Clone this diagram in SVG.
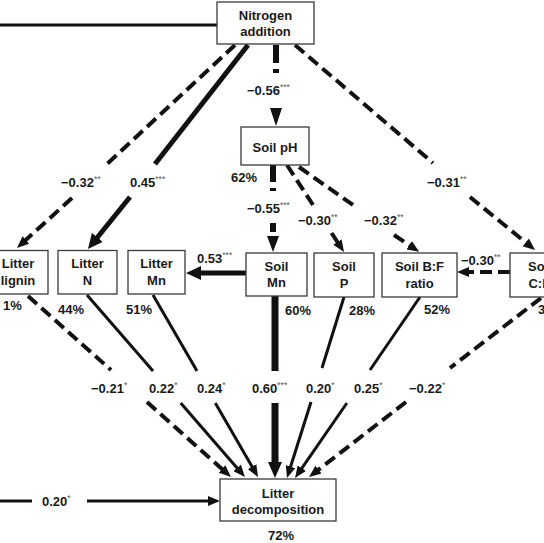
<svg xmlns="http://www.w3.org/2000/svg" width="544" height="543" viewBox="0 0 544 543">
<defs>
<style>
.box{fill:#fff;stroke:#3a3a3a;stroke-width:1.3}
.t{font-family:"Liberation Sans",Arial,sans-serif;font-weight:bold;font-size:13px;fill:#1a1a1a}
.c{text-anchor:middle}
.sup{font-size:8.5px;font-weight:normal;fill:#555}
.ln{fill:none;stroke:#111;stroke-width:3}
.ds{stroke-dasharray:12 6;stroke-width:4}
.th{stroke-width:5}
.hv{stroke-width:6}
.xh{stroke-width:7}
.hd{fill:#111}
</style>
<marker id="ah" markerUnits="userSpaceOnUse" markerWidth="12" markerHeight="10" refX="2" refY="5" orient="auto"><path d="M0,0 L12,5 L0,10 z" fill="#111"/></marker>
<marker id="ahL" markerUnits="userSpaceOnUse" markerWidth="15" markerHeight="14" refX="3" refY="7" orient="auto"><path d="M0,0 L15,7 L0,14 z" fill="#111"/></marker>
<marker id="ahXL" markerUnits="userSpaceOnUse" markerWidth="16" markerHeight="14" refX="2" refY="7" orient="auto"><path d="M0,0 L16,7 L0,14 z" fill="#111"/></marker>
</defs>
<rect width="544" height="543" fill="#fff"/>

<g id="connectors">
<line class="ln" x1="0" y1="25" x2="217" y2="25" stroke-width="4"/>
<!-- N -> pH -->
<line class="ln hv" x1="276" y1="45" x2="276" y2="63"/>
<line class="ln hv" x1="276" y1="69" x2="276" y2="73"/>
<polygon class="hd" points="270,108 282,108 276,126"/>
<text class="t" x="247" y="94.5">−0.56<tspan class="sup" dy="-5">***</tspan></text>
<!-- N -> Litter lignin -->
<line class="ln ds" x1="235" y1="45" x2="106" y2="165"/>
<line class="ln ds" x1="72" y1="198" x2="24.4" y2="241.3" marker-end="url(#ah)"/>
<text class="t" x="61" y="186.5">−0.32<tspan class="sup" dy="-5">**</tspan></text>
<!-- N -> Litter N -->
<line class="ln th" x1="248" y1="45" x2="155" y2="164"/>
<line class="ln th" x1="130" y1="197" x2="95.5" y2="239.7" marker-end="url(#ahL)"/>
<text class="t" x="130" y="186.5">0.45<tspan class="sup" dy="-5">***</tspan></text>
<!-- N -> Soil C:N -->
<line class="ln ds" x1="295" y1="45" x2="433" y2="163"/>
<line class="ln ds" x1="470" y1="197" x2="527.3" y2="243.7" marker-end="url(#ah)"/>
<text class="t" x="427" y="186.5">−0.31<tspan class="sup" dy="-5">**</tspan></text>
<!-- pH -> Soil Mn -->
<line class="ln hv" x1="273" y1="165" x2="273" y2="182"/>
<line class="ln hv" x1="273" y1="188" x2="273" y2="191"/>
<line class="ln hv" x1="273" y1="223" x2="273" y2="232"/>
<polygon class="hd" points="267,236 279,236 273,252"/>
<text class="t" x="247" y="212.5">−0.55<tspan class="sup" dy="-5">***</tspan></text>
<!-- pH -> Soil P -->
<line class="ln ds" x1="287" y1="165" x2="313" y2="205"/>
<line class="ln ds" x1="331.5" y1="233" x2="338.5" y2="243.6" marker-end="url(#ah)"/>
<text class="t" x="298" y="224.5">−0.30<tspan class="sup" dy="-5">**</tspan></text>
<!-- pH -> Soil B:F -->
<line class="ln ds" x1="299" y1="167" x2="353" y2="205"/>
<line class="ln ds" x1="394" y1="235" x2="410.8" y2="246.2" marker-end="url(#ah)"/>
<text class="t" x="364" y="224.5">−0.32<tspan class="sup" dy="-5">**</tspan></text>
<!-- Soil C:N -> Soil B:F -->
<line class="ln ds" x1="510" y1="272" x2="467" y2="272" marker-end="url(#ah)"/>
<text class="t" x="461" y="264.5">−0.30<tspan class="sup" dy="-5">**</tspan></text>
<!-- Soil Mn -> Litter Mn -->
<line class="ln th" x1="246" y1="273" x2="198" y2="273" marker-end="url(#ahL)"/>
<text class="t" x="197" y="262.5">0.53<tspan class="sup" dy="-5">***</tspan></text>
<!-- lignin -> decomposition -->
<line class="ln ds" x1="28" y1="296" x2="111" y2="370"/>
<line class="ln ds" x1="147" y1="402" x2="223.5" y2="470.3" marker-end="url(#ah)"/>
<text class="t" x="91" y="392.5">−0.21<tspan class="sup" dy="-5">*</tspan></text>
<!-- Litter N -> decomposition -->
<line class="ln" x1="87" y1="295" x2="153" y2="371"/>
<line class="ln" x1="180.7" y1="403" x2="238.4" y2="469.4" marker-end="url(#ah)"/>
<text class="t" x="149" y="392.5">0.22<tspan class="sup" dy="-5">*</tspan></text>
<!-- Litter Mn -> decomposition -->
<line class="ln" x1="153" y1="295" x2="197" y2="371"/>
<line class="ln" x1="215.3" y1="403" x2="253" y2="468.3" marker-end="url(#ah)"/>
<text class="t" x="197" y="392.5">0.24<tspan class="sup" dy="-5">*</tspan></text>
<!-- Soil Mn -> decomposition -->
<line class="ln xh" x1="275" y1="296" x2="275" y2="371"/>
<line class="ln xh" x1="275" y1="403" x2="275" y2="464" marker-end="url(#ahXL)"/>
<text class="t" x="252" y="392.5">0.60<tspan class="sup" dy="-5">***</tspan></text>
<!-- Soil P -> decomposition -->
<line class="ln" x1="344" y1="297" x2="322" y2="368"/>
<line class="ln" x1="311" y1="402" x2="290" y2="468.5" marker-end="url(#ah)"/>
<text class="t" x="306" y="392.5">0.20<tspan class="sup" dy="-5">*</tspan></text>
<!-- Soil B:F -> decomposition -->
<line class="ln" x1="420" y1="297" x2="370" y2="370"/>
<line class="ln" x1="346.9" y1="403" x2="300.7" y2="469.8" marker-end="url(#ah)"/>
<text class="t" x="354" y="392.5">0.25<tspan class="sup" dy="-5">*</tspan></text>
<!-- Soil C:N -> decomposition -->
<line class="ln ds" x1="541" y1="298" x2="450" y2="368"/>
<line class="ln ds" x1="406" y1="402" x2="316.9" y2="470.9" marker-end="url(#ah)"/>
<text class="t" x="409" y="392.5">−0.22<tspan class="sup" dy="-5">*</tspan></text>
<!-- bottom left -> decomposition -->
<line class="ln" x1="0" y1="501" x2="32" y2="501"/>
<line class="ln" x1="87" y1="501" x2="210" y2="501" marker-end="url(#ah)"/>
<text class="t" x="42" y="505.5">0.20<tspan class="sup" dy="-5">*</tspan></text>
</g>

<g id="n-nitrogen">
<rect class="box" x="217" y="2" width="97" height="42"/>
<text class="t c" x="265.5" y="19.5">Nitrogen</text>
<text class="t c" x="265.5" y="35.5">addition</text>
</g>
<g id="n-ph">
<rect class="box" x="241" y="127" width="68" height="38"/>
<text class="t c" x="275" y="152">Soil pH</text>
<text class="t" x="231" y="181.5">62%</text>
</g>
<g id="n-lignin">
<rect class="box" x="-12" y="250.5" width="60" height="43.5"/>
<text class="t c" x="18" y="268">Litter</text>
<text class="t c" x="18" y="285">lignin</text>
<text class="t" x="3" y="309.5">1%</text>
</g>
<g id="n-litterN">
<rect class="box" x="58" y="250.5" width="59" height="43.5"/>
<text class="t c" x="87.5" y="268">Litter</text>
<text class="t c" x="87.5" y="285">N</text>
<text class="t" x="58" y="313.5">44%</text>
</g>
<g id="n-litterMn">
<rect class="box" x="128" y="250.5" width="57" height="43.5"/>
<text class="t c" x="156.5" y="268">Litter</text>
<text class="t c" x="156.5" y="285">Mn</text>
<text class="t" x="126" y="313.5">51%</text>
</g>
<g id="n-soilMn">
<rect class="box" x="246" y="253" width="61" height="43"/>
<text class="t c" x="276.5" y="270.5">Soil</text>
<text class="t c" x="276.5" y="287">Mn</text>
<text class="t" x="285" y="315">60%</text>
</g>
<g id="n-soilP">
<rect class="box" x="314" y="253" width="60" height="44"/>
<text class="t c" x="344" y="271">Soil</text>
<text class="t c" x="344" y="287.5">P</text>
<text class="t" x="349" y="315">28%</text>
</g>
<g id="n-soilBF">
<rect class="box" x="382" y="253" width="75" height="44"/>
<text class="t c" x="419.5" y="271">Soil B:F</text>
<text class="t c" x="419.5" y="287.5">ratio</text>
<text class="t" x="424" y="313.5">52%</text>
</g>
<g id="n-soilCN">
<rect class="box" x="510" y="253" width="60" height="44"/>
<text class="t c" x="540" y="271">Soil</text>
<text class="t c" x="540" y="287.5">C:N</text>
<text class="t" x="538" y="314">3</text>
</g>
<g id="n-decomp">
<rect class="box" x="220" y="479" width="116" height="42"/>
<text class="t c" x="278" y="497.5">Litter</text>
<text class="t c" x="278" y="513.5">decomposition</text>
<text class="t" x="268" y="540">72%</text>
</g>
</svg>
